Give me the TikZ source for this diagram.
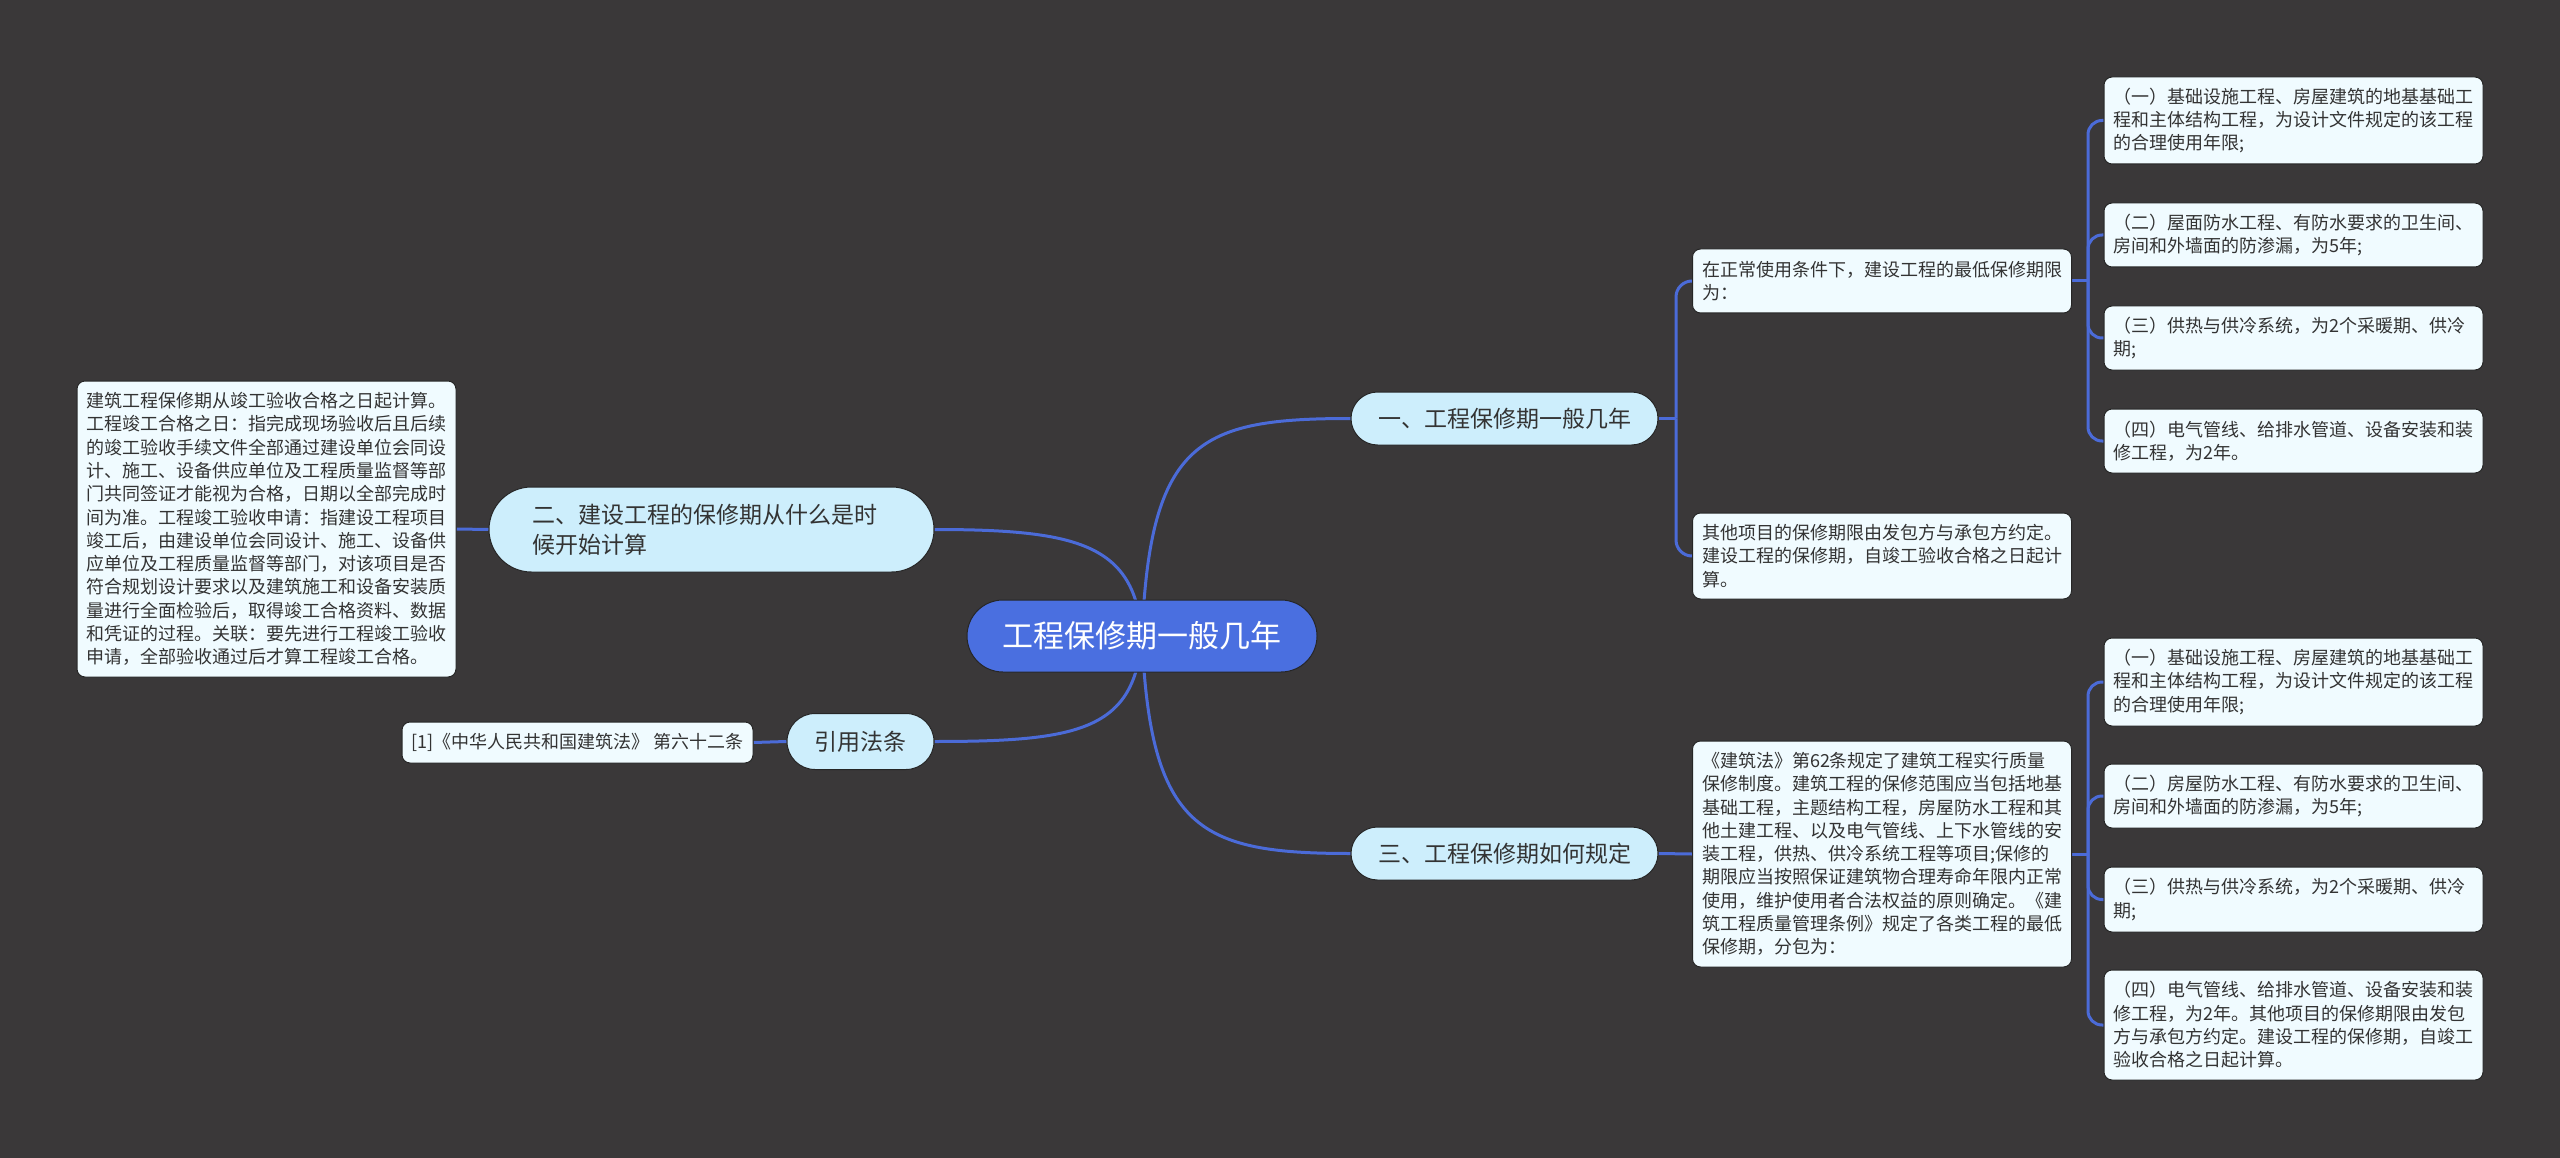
\documentclass[tikz,border=0pt]{standalone}
\usepackage{fontspec}
\setmainfont{Noto Sans CJK SC}
\definecolor{bgcol}{HTML}{3A3839}
\definecolor{linkcol}{HTML}{4B6BD8}
\definecolor{rootcol}{HTML}{4A6FE0}
\definecolor{brcol}{HTML}{CDEEFC}
\definecolor{leafcol}{HTML}{F0FBFF}
\definecolor{txtcol}{HTML}{333333}
\definecolor{edgecol}{HTML}{262626}
\pgfdeclarelayer{bgl}
\pgfdeclarelayer{links}
\pgfsetlayers{bgl,links,main}
\tikzset{
  link/.style={draw=linkcol, line width=3pt},
  rootnode/.style={draw=edgecol, line width=1pt, fill=rootcol, text=white, rounded corners=36pt,
    minimum width=350pt, minimum height=72pt, inner sep=0pt, font=\fontsize{31}{36}\selectfont},
  brnode/.style={draw=edgecol, line width=1pt, fill=brcol, text=txtcol, inner sep=0pt,
    font=\fontsize{23}{30}\selectfont},
  boxbase/.style={draw=edgecol, line width=1pt, fill=leafcol, text=txtcol, rounded corners=8pt},
  leaf/.style={boxbase, align=left, inner xsep=9.5pt, inner ysep=0pt, text width=360pt,
    font=\fontsize{18}{23.3}\selectfont},
  refbox/.style={boxbase, inner sep=0pt, font=\fontsize{18}{21}\selectfont},
}
\begin{document}
\begin{tikzpicture}[x=1pt,y=-1pt]
\begin{pgfonlayer}{bgl}
\fill[bgcol] (0,0) rectangle (2560,1158);
\end{pgfonlayer}
\useasboundingbox (0,0) rectangle (2560,1158);

% root
\node[rootnode] (root) at (1142,636) {工程保修期一般几年};

% branches
\node[brnode, rounded corners=26.5pt, minimum width=307pt, minimum height=53pt] (br1) at (1504.5,418.5) {一、工程保修期一般几年};
\node[brnode, rounded corners=26.5pt, minimum width=307pt, minimum height=53pt] (br3) at (1504.5,853.5) {三、工程保修期如何规定};
\node[brnode, rounded corners=42.5pt, minimum height=85pt, inner xsep=43pt, text width=359pt, align=left] (br2) at (711.5,529.5) {二、建设工程的保修期从什么是时\\候开始计算};
\node[brnode, rounded corners=28pt, minimum width=147pt, minimum height=56pt] (br4) at (860.5,741.5) {引用法条};

% left side leaves
\node[leaf, minimum height=296pt] (lt) at (266.5,529) {建筑工程保修期从竣工验收合格之日起计算。\\
工程竣工合格之日：指完成现场验收后且后续\\
的竣工验收手续文件全部通过建设单位会同设\\
计、施工、设备供应单位及工程质量监督等部\\
门共同签证才能视为合格，日期以全部完成时\\
间为准。工程竣工验收申请：指建设工程项目\\
竣工后，由建设单位会同设计、施工、设备供\\
应单位及工程质量监督等部门，对该项目是否\\
符合规划设计要求以及建筑施工和设备安装质\\
量进行全面检验后，取得竣工合格资料、数据\\
和凭证的过程。关联：要先进行工程竣工验收\\
申请，全部验收通过后才算工程竣工合格。};
\node[refbox, minimum width=351pt, minimum height=41pt] (ref) at (577.5,742.5) {[1]《中华人民共和国建筑法》 第六十二条};

% branch 1 children
\node[leaf, minimum height=64pt] (c1) at (1882,281) {在正常使用条件下，建设工程的最低保修期限\\为：};
\node[leaf, minimum height=86pt] (c2) at (1882,556) {其他项目的保修期限由发包方与承包方约定。\\建设工程的保修期，自竣工验收合格之日起计\\算。};

% branch 3 child
\node[leaf, minimum height=226pt] (c3) at (1882,854) {《建筑法》第62条规定了建筑工程实行质量\\
保修制度。建筑工程的保修范围应当包括地基\\
基础工程，主题结构工程，房屋防水工程和其\\
他土建工程、以及电气管线、上下水管线的安\\
装工程，供热、供冷系统工程等项目;保修的\\
期限应当按照保证建筑物合理寿命年限内正常\\
使用，维护使用者合法权益的原则确定。《建\\
筑工程质量管理条例》规定了各类工程的最低\\
保修期，分包为：};

% far right (branch 1)
\node[leaf, minimum height=87pt] (a1) at (2293.5,120.5) {（一）基础设施工程、房屋建筑的地基基础工\\程和主体结构工程，为设计文件规定的该工程\\的合理使用年限;};
\node[leaf, minimum height=64pt] (a2) at (2293.5,235) {（二）屋面防水工程、有防水要求的卫生间、\\房间和外墙面的防渗漏，为5年;};
\node[leaf, minimum height=64pt] (a3) at (2293.5,338) {（三）供热与供冷系统，为2个采暖期、供冷\\期;};
\node[leaf, minimum height=64pt] (a4) at (2293.5,441) {（四）电气管线、给排水管道、设备安装和装\\修工程，为2年。};

% far right (branch 3)
\node[leaf, minimum height=88pt] (d1) at (2293.5,682) {（一）基础设施工程、房屋建筑的地基基础工\\程和主体结构工程，为设计文件规定的该工程\\的合理使用年限;};
\node[leaf, minimum height=64pt] (d2) at (2293.5,796) {（二）房屋防水工程、有防水要求的卫生间、\\房间和外墙面的防渗漏，为5年;};
\node[leaf, minimum height=65pt] (d3) at (2293.5,899.5) {（三）供热与供冷系统，为2个采暖期、供冷\\期;};
\node[leaf, minimum height=110pt] (d4) at (2293.5,1025) {（四）电气管线、给排水管道、设备安装和装\\修工程，为2年。其他项目的保修期限由发包\\方与承包方约定。建设工程的保修期，自竣工\\验收合格之日起计算。};

% junction coordinates
\coordinate (j1) at (1676,418.5);
\coordinate (j2) at (2088,281);
\coordinate (j3) at (2088,854);

\begin{pgfonlayer}{links}
\draw[link] (root.center) .. controls (1150,440) and (1200,418.5) .. (br1.west);
\draw[link] (root.center) .. controls (1135,545) and (1080,529.5) .. (br2.east);
\draw[link] (root.center) .. controls (1135,730) and (1080,741.5) .. (br4.east);
\draw[link] (root.center) .. controls (1150,830) and (1200,853.5) .. (br3.west);
\draw[link] (br2.west) -- (lt.east);
\draw[link] (br4.west) -- (ref.east);
\draw[link] (br1.east) -- (j1);
\draw[link, rounded corners=16pt] (j1) |- (c1.west);
\draw[link, rounded corners=16pt] (j1) |- (c2.west);
\draw[link] (br3.east) -- (c3.west);
\draw[link] (c1.east) -- (j2);
\draw[link, rounded corners=14pt] (j2) |- (a1.west);
\draw[link, rounded corners=14pt] (j2) |- (a2.west);
\draw[link, rounded corners=14pt] (j2) |- (a3.west);
\draw[link, rounded corners=14pt] (j2) |- (a4.west);
\draw[link] (c3.east) -- (j3);
\draw[link, rounded corners=14pt] (j3) |- (d1.west);
\draw[link, rounded corners=14pt] (j3) |- (d2.west);
\draw[link, rounded corners=14pt] (j3) |- (d3.west);
\draw[link, rounded corners=14pt] (j3) |- (d4.west);
\end{pgfonlayer}
\end{tikzpicture}
\end{document}
